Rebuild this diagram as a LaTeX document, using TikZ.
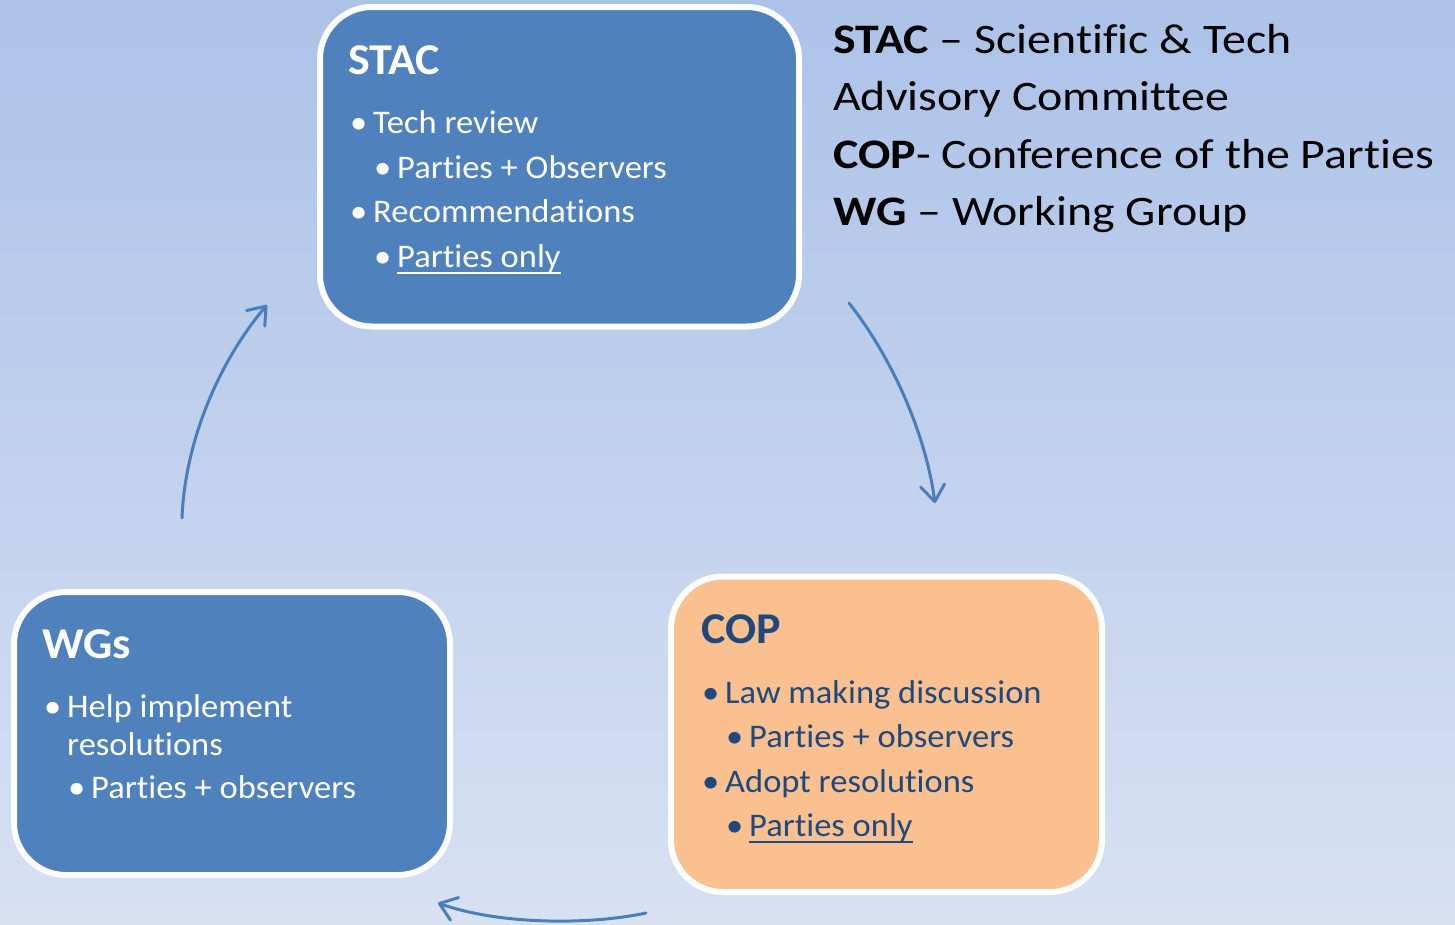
\documentclass[tikz,border=0pt]{standalone}
\usepackage{fontspec}
\setmainfont[Ligatures={CommonOff,ContextualOff},FakeStretch=1.045]{Carlito}
\newfontfamily\legendfont[Ligatures={CommonOff,ContextualOff},FakeStretch=1.14]{Carlito}
\usetikzlibrary{arrows.meta}
\definecolor{bgtop}{HTML}{ACC2E8}
\definecolor{bgbot}{HTML}{D7E1F2}
\definecolor{boxblue}{HTML}{4F81BD}
\definecolor{boxorange}{HTML}{FAC090}
\definecolor{darkblue}{HTML}{1F497D}
\definecolor{arrowblue}{HTML}{4A7EBB}
\tikzset{
 card/.style={draw=white, line width=6pt, rounded corners=52pt, inner sep=0pt},
 title/.style={anchor=base west, inner sep=0pt, font=\fontsize{44}{44}\selectfont\bfseries},
 item/.style={anchor=base west, inner sep=0pt, font=\fontsize{33}{33}\selectfont},
 legend/.style={anchor=base west, inner sep=0pt, font=\legendfont\fontsize{42}{42}\selectfont},
 flow/.style={arrowblue, line width=3pt, line cap=round, -{Straight Barb[length=16pt,width=24pt,round]}},
 uline/.style={line width=1.8pt}
}
\begin{document}
\begin{tikzpicture}[x=1pt,y=-1pt]
\shade[top color=bgtop, bottom color=bgbot] (0,0) rectangle (1455,924);
\useasboundingbox (0,0) rectangle (1455,924);

% boxes
\node[card, fill=boxblue, minimum width=479pt, minimum height=319.5pt] (stac) at (559.5,166.75) {};
\node[card, fill=boxorange, minimum width=431pt, minimum height=315.5pt] (cop) at (886.5,734.25) {};
\node[card, fill=boxblue, minimum width=436pt, minimum height=283pt] (wgs) at (232,733.5) {};

% STAC text
\begin{scope}[white]
\node[title] (stacT) at (348,74) {STAC};
\node[item] (stacB1) at (350,133) {•};
\node[item] (stacL1) at (373,133) {Tech review};
\node[item] (stacB2) at (374,178) {•};
\node[item] (stacL2) at (397,178) {Parties + Observers};
\node[item] (stacB3) at (350,222) {•};
\node[item] (stacL3) at (373,222) {Recommendations};
\node[item] (stacB4) at (374,267) {•};
\node[item] (stacL4) at (397,267) {Parties only};
\draw[uline] ([yshift=-6pt]stacL4.base west) -- ([yshift=-6pt]stacL4.base east);
\end{scope}

% COP text
\begin{scope}[darkblue]
\node[title] (copT) at (701,643) {COP};
\node[item] (copB1) at (702,703) {•};
\node[item] (copL1) at (725,703) {Law making discussion};
\node[item] (copB2) at (726,747) {•};
\node[item] (copL2) at (749,747) {Parties + observers};
\node[item] (copB3) at (702,792) {•};
\node[item] (copL3) at (725,792) {Adopt resolutions};
\node[item] (copB4) at (726,836) {•};
\node[item] (copL4) at (749,836) {Parties only};
\draw[uline] ([yshift=-6pt]copL4.base west) -- ([yshift=-6pt]copL4.base east);
\end{scope}

% WGs text
\begin{scope}[white]
\node[title] (wgT) at (42,658) {WGs};
\node[item] (wgB1) at (44,717) {•};
\node[item] (wgL1) at (67,717) {Help implement};
\node[item] (wgL1b) at (67,755) {resolutions};
\node[item] (wgB2) at (68,798) {•};
\node[item] (wgL2) at (91,798) {Parties + observers};
\end{scope}

% legend
\node[legend] (lg1) at (833,53) {\textbf{STAC} – Scientific \& Tech};
\node[legend] (lg2) at (833,110) {Advisory Committee};
\node[legend] (lg3) at (833,168) {\textbf{COP}- Conference of the Parties};
\node[legend] (lg4) at (833,225) {\textbf{WG} – Working Group};

% connectors
\coordinate (a1s) at (849,303);
\coordinate (a1e) at (935,503);
\coordinate (a2s) at (646,913);
\coordinate (a2e) at (438,903);
\coordinate (a3s) at (182,518);
\coordinate (a3e) at (267,305);
\draw[flow] (a1s) .. controls (890,355) and (925,430) .. (a1e);
\draw[flow] (a2s) .. controls (590,925) and (500,925) .. (a2e);
\draw[flow] (a3s) .. controls (185,440) and (220,360) .. (a3e);
\end{tikzpicture}
\end{document}
